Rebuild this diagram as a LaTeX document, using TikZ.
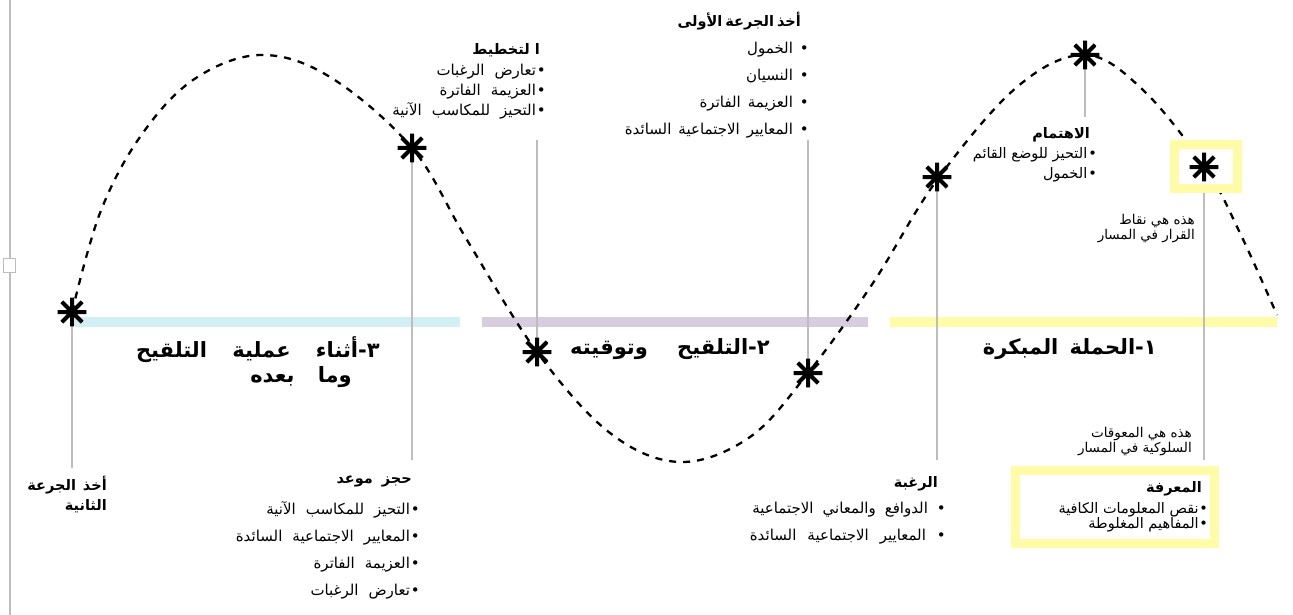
\documentclass[tikz,border=0pt]{standalone}
\usepackage{fontspec}
\newfontfamily\ar[Script=Arabic]{DejaVu Sans}
\TeXXeTstate=1
\newcommand\sps[1]{\spaceskip=#1\relax}
\definecolor{barblue}{HTML}{D2EFF6}
\definecolor{barlav}{HTML}{D8CCE0}
\definecolor{baryel}{HTML}{FFFBA6}
\definecolor{vline}{HTML}{BDBDBD}
\tikzset{
  astk/.style={circle, inner sep=0pt, minimum size=29pt, path picture={
    \draw[line width=4pt, shift={(path picture bounding box.center)}]
      (-15,0)--(15,0) (0,-15)--(0,15) (-10.6,-10.6)--(10.6,10.6) (-10.6,10.6)--(10.6,-10.6);}},
  vl/.style={draw=vline, line width=1.8pt},
  bar/.style={line width=10pt},
  ybox/.style={draw=baryel, line width=9pt, fill=white, inner sep=0pt},
  txt/.style={inner sep=0pt, align=right, anchor=north east, font=\ar\fontsize{15}{20}\selectfont},
  txtw/.style={inner sep=0pt, align=right, anchor=north east, font=\ar\fontsize{15}{27}\selectfont},
  hd/.style={inner sep=0pt, align=right, anchor=north east, font=\ar\bfseries\fontsize{14.5}{20}\selectfont},
  big/.style={inner sep=0pt, align=right, anchor=north east, font=\ar\bfseries\fontsize{21}{30}\selectfont},
  note/.style={inner sep=0pt, align=right, anchor=north east, font=\ar\fontsize{13.5}{12}\selectfont},
}
\begin{document}
\begin{tikzpicture}[x=1pt, y={(0pt,-1pt)}]
\fill[white] (0,0) rectangle (1293,615);
\useasboundingbox (0,0) rectangle (1293,615);
% left edge artifact
\draw[draw=vline, line width=1.5pt] (10,0) -- (10,615);
\node[draw=vline, fill=white, line width=1pt, minimum width=12pt, minimum height=14pt, inner sep=0pt] (handle) at (9.5,265) {};
% coloured bars
\coordinate (b1a) at (75,322); \coordinate (b1b) at (460,322);
\coordinate (b2a) at (482,322); \coordinate (b2b) at (868,322);
\coordinate (b3a) at (890,322); \coordinate (b3b) at (1277,322);
\draw[bar, barblue] (b1a) -- (b1b);
\draw[bar, barlav] (b2a) -- (b2b);
\draw[bar, baryel] (b3a) -- (b3b);
% stars positions
\coordinate (p1) at (72,312);
\coordinate (p2) at (412,148);
\coordinate (p3) at (537,352);
\coordinate (p4) at (808,373);
\coordinate (p5) at (937,177);
\coordinate (p6) at (1085,55);
\coordinate (p7) at (1204,167);
% free ends of gray lines
\coordinate (e1) at (72,468);
\coordinate (e2) at (412,460);
\coordinate (e3) at (537,140);
\coordinate (e4) at (808,140);
\coordinate (e5) at (937,460);
\coordinate (e6) at (1085,117);
\coordinate (e7) at (1204,460);
\foreach \i in {1,...,6} \draw[vl] (p\i) -- (e\i);
% dashed curve
\draw[line width=2.3pt, dash pattern=on 7pt off 7pt] plot[smooth, tension=0.6] coordinates {
 (72,312) (100,213) (140,137) (193,80) (260,55) (330,77) (412,148) (467,240) (537,352)
 (610,433) (680,462) (750,437) (808,373) (873,283) (937,180) (1017,87) (1085,55)
 (1143,90) (1205,167) (1240,233) (1277,315)};
% yellow boxes
\node[ybox, minimum width=63pt, minimum height=44pt] (dbox) at (1206,166.5) {};
\node[ybox, minimum width=199pt, minimum height=73pt] (kbox) at (1115,507) {};
\draw[vl] (dbox.south -| e7) -- (e7);
% stars
\foreach \i in {1,...,7} \node[astk] (s\i) at (p\i) {};
% texts top
\node[hd] (t1h) at (801,12) {\sps{3pt}\beginR أخذ الجرعة الأولى\endR};
\node[txtw] (t1l) at (809,42) {\sps{7pt}\beginR • الخمول\endR\\\sps{7pt}\beginR • النسيان\endR\\\sps{7pt}\beginR • العزيمة الفاترة\endR\\\sps{7pt}\beginR • المعايير الاجتماعية السائدة\endR};
\node[hd] (t2h) at (540,43) {\beginR ا لتخطيط\endR};
\node[txt] (t2l) at (546,64) {\sps{10pt}\beginR •\kern1pt تعارض الرغبات\endR\\\sps{10pt}\beginR •\kern1pt العزيمة الفاترة\endR\\\sps{10pt}\beginR •\kern1pt التحيز للمكاسب الآنية\endR};
\node[hd] (t3h) at (1090,127) {\beginR الاهتمام\endR};
\node[txt, font=\ar\fontsize{14.5}{20}\selectfont] (t3l) at (1097,147) {\beginR •\kern1pt التحيز للوضع القائم\endR\\\beginR •\kern1pt الخمول\endR};
\node[note] (n1) at (1195,214) {\beginR هذه هي نقاط\endR\\\beginR القرار في المسار\endR};
% big titles
\node[big] (g1) at (1157,338) {\beginR ١-الحملة\hspace{4pt} المبكرة\endR};
\node[big] (g2) at (770,338) {\beginR ٢-التلقيح\hspace{22pt} وتوقيته\endR};
\node[big] (g3a) at (380,336) {\beginR ٣-أثناء\hspace{18pt} عملية\hspace{18pt} التلقيح\endR};
\node[big] (g3b) at (352,366) {\beginR وما\hspace{16pt} بعده\endR};
% bottom texts
\node[note] (n2) at (1192,427) {\beginR هذه هي المعوقات\endR\\\beginR السلوكية في المسار\endR};
\node[hd] (k1h) at (1202,481) {\beginR المعرفة\endR};
\node[txt, font=\ar\fontsize{14.5}{14}\selectfont] (k1l) at (1208,502) {\beginR •\kern0.5pt نقص المعلومات الكافية\endR\\\beginR •\kern0.5pt المفاهيم المغلوطة\endR};
\node[hd] (r1h) at (938,476) {\beginR الرغبة\endR};
\node[txtw] (r1l) at (946,502) {\sps{9pt}\beginR • الدوافع والمعاني الاجتماعية\endR\\\sps{11pt}\beginR • المعايير الاجتماعية السائدة\endR};
\node[hd] (h1h) at (412,476) {\sps{9pt}\beginR حجز موعد\endR};
\node[txtw] (h1l) at (420,501) {\sps{10pt}\beginR •\kern1pt التحيز للمكاسب الآنية\endR\\\sps{10pt}\beginR •\kern1pt المعايير الاجتماعية السائدة\endR\\\sps{10pt}\beginR •\kern1pt العزيمة الفاترة\endR\\\sps{10pt}\beginR •\kern1pt تعارض الرغبات\endR};
\node[hd] (d2h) at (107,476) {\sps{7pt}\beginR أخذ الجرعة\endR\\\beginR الثانية\endR};
\end{tikzpicture}
\end{document}
